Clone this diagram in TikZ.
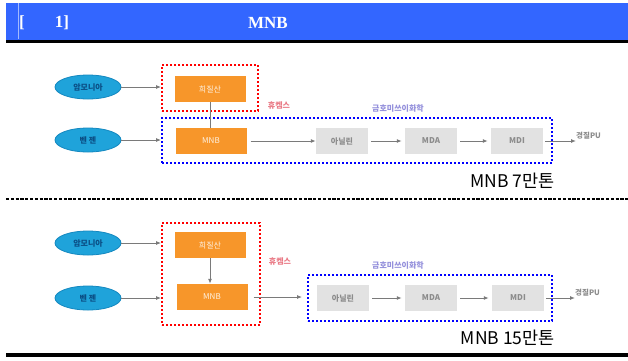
\documentclass[tikz,border=0pt]{standalone}
\usepackage{fontspec}
\setmainfont{Liberation Serif}
\newfontfamily\kr{Noto Sans CJK KR}
\usetikzlibrary{arrows.meta,fit,shapes.geometric}

\definecolor{hdrblue}{HTML}{3366FF}
\definecolor{ellfill}{HTML}{1FA3DA}
\definecolor{elldraw}{HTML}{1488C0}
\definecolor{elltext}{HTML}{0B4F86}
\definecolor{orangebox}{HTML}{F7962A}
\definecolor{graybox}{HTML}{E2E2E2}
\definecolor{graytext}{HTML}{8C8C8C}
\definecolor{linkgray}{HTML}{7A7A7A}
\definecolor{redlabel}{HTML}{EA7A86}
\definecolor{bluelabel}{HTML}{9490DC}

\tikzset{
  feed/.style={ellipse, fill=ellfill, draw=elldraw, line width=0.8pt,
    minimum width=66pt, minimum height=24pt, inner sep=0pt,
    font=\kr\fontsize{8}{8}\selectfont\bfseries, text=elltext},
  plant/.style={rectangle, fill=orangebox, minimum width=71pt,
    minimum height=26pt, inner sep=0pt,
    font=\kr\fontsize{8}{8}\selectfont, text=white!88!orangebox},
  product/.style={rectangle, fill=graybox, minimum width=52pt,
    minimum height=26pt, inner sep=0pt,
    font=\kr\fontsize{8}{8}\selectfont\bfseries, text=graytext},
  link/.style={draw=linkgray, line width=1pt,
    -{Latex[length=5pt,width=4pt]}},
  plainlink/.style={draw=linkgray, line width=1pt},
  redzone/.style={draw=red, line width=1.8pt, dash pattern=on 2pt off 2pt,
    inner sep=0pt, rectangle},
  bluezone/.style={draw=blue, line width=1.8pt, dash pattern=on 2pt off 2pt,
    inner sep=0pt, rectangle},
  company/.style={font=\kr\fontsize{8}{8}\selectfont\bfseries, inner sep=0pt},
  enduse/.style={font=\kr\fontsize{7.5}{7.5}\selectfont\bfseries,
    text=graytext, inner sep=0pt, anchor=west},
  capacity/.style={font=\kr\fontsize{17.5}{17.5}\selectfont, inner sep=0pt},
  hdrtext/.style={font=\fontsize{17}{17}\selectfont\bfseries, text=white,
    inner sep=0pt}
}

\begin{document}
\begin{tikzpicture}[x=1pt,y=-1pt]
\useasboundingbox (0,0) rectangle (628,360);
\fill[white] (0,0) rectangle (628,360);

% title band
\fill[hdrblue] (6,3) rectangle (628,40);
\draw[hdrblue!45!white, line width=0.6pt] (18,3) -- (18,39);
\fill[black] (6,40) rectangle (628,43);
\node[hdrtext] (hbr) at (22,23) {[};
\node[hdrtext] (hnum) at (62,23) {1]};
\node[hdrtext] (htitle) at (268,23) {MNB};

% ---------- upper scheme: 7만톤 ----------
\node[feed] (amA) at (88,87) {암모니아};
\node[feed] (bzA) at (88,140) {벤 젠};
\node[plant] (naA) at (210,89) {희질산};
\node[plant] (mnbA) at (211,141) {MNB};
\node[product] (anA) at (342,141) {아닐린};
\node[product] (mdaA) at (431,141) {MDA};
\node[product] (mdiA) at (517,141) {MDI};
\node[enduse] (puA) at (576,136) {경질PU};

\node[redzone, minimum width=96pt, minimum height=46pt] (redA) at (210,88) {};
\node[bluezone, minimum width=390pt, minimum height=45pt] (blueA) at (357,140.5) {};
\node[company, text=redlabel] (hcA) at (279,106) {휴켐스};
\node[company, text=bluelabel] (kmA) at (398,108) {금호미쓰이화학};

\draw[link] (amA.east) -- (amA -| redA.west);
\draw[link] (bzA.east) -- (bzA -| blueA.west);
\draw[plainlink] (naA.south) -- (mnbA.north -| naA.south);
\draw[link] (mnbA.east) ++(4,0) -- (anA.west);
\draw[link] (anA.east) ++(3,0) -- ([xshift=-3pt]mdaA.west);
\draw[link] (mdaA.east) ++(3,0) -- ([xshift=-3pt]mdiA.west);
\draw[link] (mdiA.east) ++(2,0) -- (puA.west |- mdiA.east);

\node[capacity, anchor=east] (capA) at (555,181) {MNB 7만톤};

% separator
\draw[black, line width=2pt, dash pattern=on 3.2pt off 1.6pt] (6,199) -- (628,199);

% ---------- lower scheme: 15만톤 ----------
\node[feed] (amB) at (88,243) {암모니아};
\node[feed] (bzB) at (88,298) {벤 젠};
\node[plant] (naB) at (210,245) {희질산};
\node[plant] (mnbB) at (212,297) {MNB};
\node[product] (anB) at (343,298) {아닐린};
\node[product] (mdaB) at (431,298) {MDA};
\node[product] (mdiB) at (518,298) {MDI};
\node[enduse] (puB) at (575,293) {경질PU};

\node[redzone, minimum width=98pt, minimum height=102pt] (redB) at (211,274) {};
\node[bluezone, minimum width=244pt, minimum height=46pt] (blueB) at (430,298) {};
\node[company, text=redlabel] (hcB) at (280,262) {휴켐스};
\node[company, text=bluelabel] (kmB) at (398,265) {금호미쓰이화학};

\draw[link] (amB.east) -- (amB -| redB.west);
\draw[link] (bzB.east) -- (bzB -| redB.west);
\draw[link] (naB.south) -- (mnbB.north -| naB.south);
\draw[link] (mnbB.east) ++(6,0) -- ([xshift=-5pt]mnbB -| blueB.west);
\draw[link] (anB.east) ++(3,0) -- ([xshift=-3pt]mdaB.west);
\draw[link] (mdaB.east) ++(3,0) -- ([xshift=-3pt]mdiB.west);
\draw[link] (mdiB.east) ++(2,0) -- (puB.west |- mdiB.east);

\node[capacity, anchor=east] (capB) at (555,338) {MNB 15만톤};

% closing rule
\fill[black] (6,353) rectangle (628,357);
\end{tikzpicture}
\end{document}
